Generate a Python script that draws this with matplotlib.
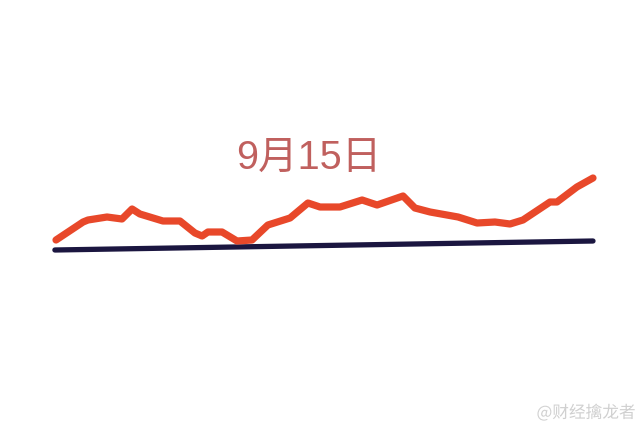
import matplotlib
matplotlib.use('Agg')
import matplotlib.pyplot as plt
import matplotlib.patheffects as pe

# intraday line, minutes from open vs level above the base line
minutes = [0, 12.1, 14.3, 22.8, 29.5, 34.0, 37.5, 47.8, 55.4, 62.1, 65.3, 67.9,
           74.2, 80.9, 87.6, 94.7, 104.6, 112.6, 118.0, 126.9, 136.8, 143.5,
           155.1, 160.4, 167.2, 174.7, 179.7, 188.2, 196.2, 202.9, 208.7,
           220.8, 223.9, 232.8, 240]
level = [10, 28, 30, 33, 31, 41, 36, 29, 29, 17, 14, 18,
         18, 9, 10, 25, 32, 47, 43, 43, 50, 45,
         54, 42, 38, 35, 33, 27, 28, 26, 30,
         48, 48, 63, 72]

base_minutes = [-0.5, 240]
base_level = [0, 9]

title = '9月15日'
watermark = '@财经擒龙者'

plt.rcParams['font.family'] = ['Noto Sans CJK SC', 'DejaVu Sans']

fig = plt.figure(figsize=(6.39, 4.33), dpi=100)
ax = fig.add_axes([0, 0, 1, 1])
ax.set_xlim(-25.03, 260.56)
ax.set_ylim(-183, 250)
ax.axis('off')

ax.plot(base_minutes, base_level, color='#1b1640', lw=3.8, solid_capstyle='round')
ax.plot(minutes, level, color='#e8482a', lw=5.2, solid_capstyle='round',
        solid_joinstyle='round')

fig.text(0.483, 0.635, title, color='#c0605e', fontsize=28.5,
         family=['Liberation Sans', 'Noto Sans CJK SC'],
         ha='center', va='center')

fig.text(0.917, 0.046, watermark, color='#d0d0d0', fontsize=12,
         ha='center', va='center',
         path_effects=[pe.withStroke(linewidth=2, foreground='white')])

fig.savefig('out.png', dpi=100, facecolor='white')
